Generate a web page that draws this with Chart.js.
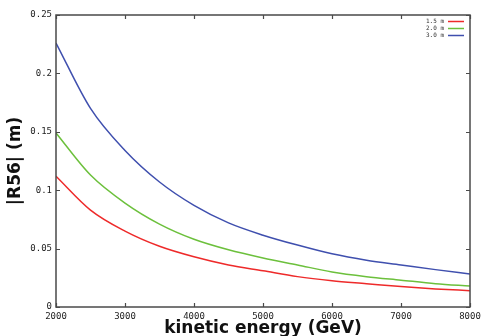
<!DOCTYPE html>
<html>
<head>
<meta charset="utf-8">
<script src="https://cdn.jsdelivr.net/npm/chart.js@4"></script>
<style>
  body { margin: 0; background: #fff; }
  #wrap { width: 486px; height: 336px; }
</style>
</head>
<body>
<div id="wrap"><canvas id="grafico" width="486" height="336"></canvas></div>
<script>
// valores (energia em GeV, |R56| em m)
const energias = [2000, 2500, 3000, 3500, 4000, 4500, 5000, 5500, 6000, 6500, 7000, 7500, 8000];
const r56_15 = [0.112, 0.083, 0.065, 0.052, 0.043, 0.036, 0.031, 0.026, 0.0225, 0.020, 0.0175, 0.0155, 0.014];
const r56_20 = [0.149, 0.113, 0.089, 0.071, 0.058, 0.049, 0.042, 0.036, 0.030, 0.026, 0.023, 0.020, 0.018];
const r56_30 = [0.226, 0.170, 0.134, 0.107, 0.087, 0.072, 0.0615, 0.053, 0.0455, 0.040, 0.036, 0.032, 0.0283];
const nomesSeries = ['1.5 m', '2.0 m', '3.0 m'];
const coresSeries = ['#ee2a2a', '#6cc03c', '#3f4fae'];
const xTicks = [2000, 3000, 4000, 5000, 6000, 7000, 8000];
const yTicks = [0, 0.05, 0.1, 0.15, 0.2, 0.25];
const tituloX = 'kinetic energy (GeV)';
const tituloY = '|R56| (m)';

const corMoldura = '#4a4a4a';

function pares(ys) {
    return energias.map((e, i) => ({ x: e, y: ys[i] }));
}

const series = [r56_15, r56_20, r56_30];

// moldura, ticks para dentro, títulos e legenda no estilo gnuplot
const estiloGnuplot = {
    id: 'estiloGnuplot',
    afterDraw(chart) {
        const ctx = chart.ctx;
        const a = chart.chartArea;
        const sx = chart.scales.x;
        const sy = chart.scales.y;
        ctx.save();
        ctx.strokeStyle = corMoldura;
        ctx.lineWidth = 1.5;
        ctx.strokeRect(a.left, a.top, a.right - a.left, a.bottom - a.top);

        ctx.lineWidth = 1.2;
        ctx.beginPath();
        xTicks.forEach(v => {
            const px = Math.round(sx.getPixelForValue(v)) + 0.5;
            ctx.moveTo(px, a.bottom); ctx.lineTo(px, a.bottom - 4);
            ctx.moveTo(px, a.top); ctx.lineTo(px, a.top + 4);
        });
        yTicks.forEach(v => {
            const py = Math.round(sy.getPixelForValue(v)) + 0.5;
            ctx.moveTo(a.left, py); ctx.lineTo(a.left + 4, py);
            ctx.moveTo(a.right, py); ctx.lineTo(a.right - 4, py);
        });
        ctx.stroke();

        // títulos dos eixos
        ctx.fillStyle = '#111';
        ctx.font = 'bold 17px "DejaVu Sans"';
        ctx.textAlign = 'center';
        ctx.textBaseline = 'alphabetic';
        ctx.fillText(tituloX, (a.left + a.right) / 2, 333);

        ctx.save();
        ctx.translate(20, 161);
        ctx.rotate(-Math.PI / 2);
        ctx.fillText(tituloY, 0, 0);
        ctx.restore();

        // legenda no canto superior direito
        ctx.font = '6px "DejaVu Sans Mono"';
        ctx.textAlign = 'right';
        ctx.textBaseline = 'middle';
        nomesSeries.forEach((nome, i) => {
            const y = 21 + i * 7;
            ctx.fillStyle = '#333';
            ctx.fillText(nome, 444, y);
            ctx.strokeStyle = coresSeries[i];
            ctx.lineWidth = 1.5;
            ctx.beginPath();
            ctx.moveTo(448, y + 0.5);
            ctx.lineTo(464, y + 0.5);
            ctx.stroke();
        });
        ctx.restore();
    }
};

const ctx = document.getElementById('grafico').getContext('2d');

new Chart(ctx, {
    type: 'line',
    data: {
        datasets: series.map((ys, i) => ({
            label: nomesSeries[i],
            data: pares(ys),
            borderColor: coresSeries[i],
            backgroundColor: coresSeries[i],
            borderWidth: 1.5,
            pointRadius: 0,
            cubicInterpolationMode: 'monotone',
            fill: false
        }))
    },
    options: {
        responsive: false,
        animation: false,
        layout: { padding: { top: 15, right: 16, left: 0, bottom: 0 } },
        plugins: {
            legend: { display: false },
            tooltip: { enabled: false }
        },
        scales: {
            x: {
                type: 'linear',
                min: 2000,
                max: 8000,
                afterFit: s => { s.height = 29; },
                afterBuildTicks: s => { s.ticks = xTicks.map(v => ({ value: v })); },
                grid: { display: false, drawTicks: false },
                border: { display: false },
                ticks: {
                    font: { family: 'DejaVu Sans Mono', size: 9 },
                    color: '#222',
                    padding: 4,
                    maxRotation: 0,
                    autoSkip: false,
                    callback: v => String(v)
                }
            },
            y: {
                min: 0,
                max: 0.25,
                afterFit: s => { s.width = 56; },
                afterBuildTicks: s => { s.ticks = yTicks.map(v => ({ value: v })); },
                grid: { display: false, drawTicks: false },
                border: { display: false },
                ticks: {
                    font: { family: 'DejaVu Sans Mono', size: 9 },
                    color: '#222',
                    padding: 4,
                    callback: v => String(Number(v.toFixed(2)))
                }
            }
        }
    },
    plugins: [estiloGnuplot]
});
</script>
</body>
</html>
